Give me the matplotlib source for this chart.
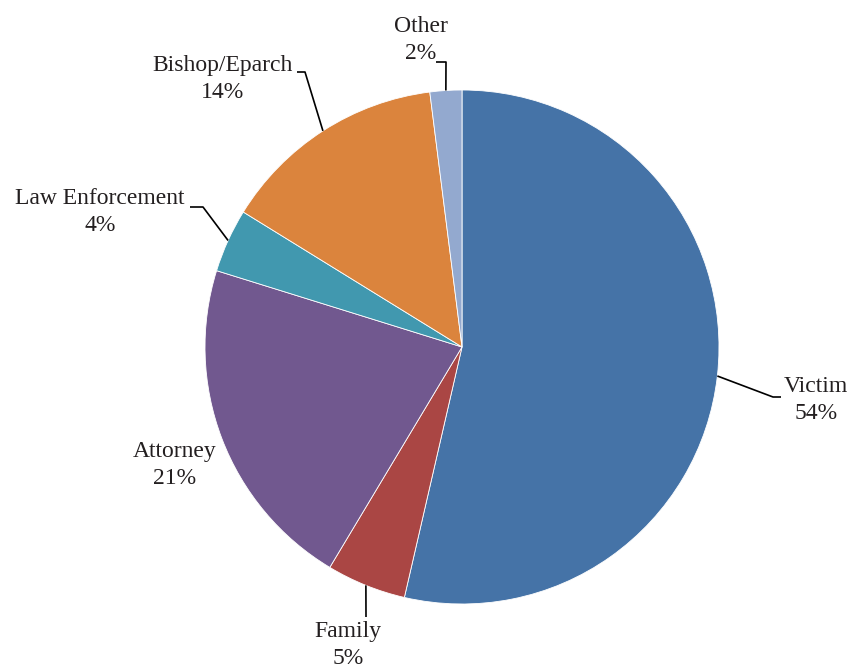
import matplotlib
matplotlib.use("Agg")
import matplotlib.pyplot as plt
import numpy as np

categories = ["Victim", "Family", "Attorney", "Law Enforcement", "Bishop/Eparch", "Other"]
values = [53.6, 5.0, 21.2, 4.0, 14.2, 2.0]
colors = ["#4573A7", "#AA4644", "#71588F", "#4198AF", "#DB843D", "#93A9CF"]

W, H = 853, 671
fig = plt.figure(figsize=(W / 100, H / 100), dpi=100)
ax = fig.add_axes([0, 0, 1, 1])

cx, cy, r = 462, H - 347, 257
wedges, _ = ax.pie(values, colors=colors, startangle=90, counterclock=False,
                   center=(cx, cy), radius=r, frame=True,
                   wedgeprops=dict(edgecolor="white", linewidth=0.6))
ax.set_xlim(0, W)
ax.set_ylim(0, H)
ax.set_aspect("equal")
ax.axis("off")

# label layout (image pixel coords): text center, elbow point, end point
layout = {
    "Victim": ((816, 400), (773, 397), (781, 397)),
    "Family": ((348, 645), (366, 617), None),
    "Attorney": ((175, 465), None, None),
    "Law Enforcement": ((100, 212), (203, 207), (190, 207)),
    "Bishop/Eparch": ((223, 79), (305, 72), (297, 72)),
    "Other": ((421, 40), (446, 62), (436, 62)),
}

total = sum(values)
for w, cat, v in zip(wedges, categories, values):
    (tx, ty), elbow, end = layout[cat]
    ax.text(tx, H - ty, f"{cat}\n{v / total * 100:.0f}%", ha="center", va="center",
            fontsize=17, family="Liberation Serif", color="#231F20", linespacing=1.4)
    if elbow is not None:
        mid = np.deg2rad((w.theta1 + w.theta2) / 2)
        sx, sy = cx + r * np.cos(mid), cy + r * np.sin(mid)
        xs = [sx, elbow[0]]
        ys = [sy, H - elbow[1]]
        if end is not None:
            xs.append(end[0])
            ys.append(H - end[1])
        ax.plot(xs, ys, color="black", linewidth=1.2, solid_capstyle="butt")

fig.savefig("out.png", dpi=100)
